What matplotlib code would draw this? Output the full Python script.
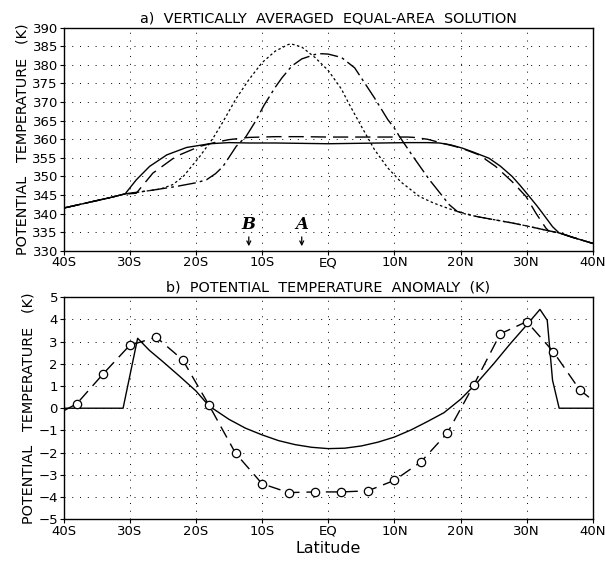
import numpy as np
import matplotlib
matplotlib.use('Agg')
import matplotlib.pyplot as plt

# Latitude ticks
lat_ticks = [-40, -30, -20, -10, 0, 10, 20, 30, 40]
lat_labels = ['40S', '30S', '20S', '10S', 'EQ', '10N', '20N', '30N', '40N']

# Panel a: vertically averaged equal-area solution (K)
solid_lat = [-40, -37, -35, -33, -30.7, -29, -27, -24.4, -21.4, -17.9, -15, -12, -8, -4, 0,
             4, 8, 12, 15, 16.8, 18.5, 20.3, 22, 24.3, 26, 27.8, 29, 30.4, 31.5, 32.4, 33.9, 34.9, 37, 40]
solid_val = [341.5, 342.7, 343.5, 344.3, 345.3, 349.1, 352.7, 355.8, 357.8, 358.8, 359.1, 359.0, 359.0,
             358.9, 358.8, 358.9, 359.0, 359.1, 359.1, 359.0, 358.5, 357.6, 356.5, 354.9, 352.8, 350.0,
             347.6, 344.6, 342.2, 340.1, 336.5, 334.8, 333.6, 332.0]

dash_lat = [-40, -37, -35, -33, -31, -29, -26.5, -23, -19.4, -17, -15, -12, -8, -4, 0, 4, 8, 12,
            13, 15, 18, 20, 22.8, 25.3, 27.8, 29.9, 31.4, 32.9, 33.3, 35, 37, 40]
dash_val = [341.5, 342.7, 343.5, 344.3, 345.2, 345.5, 350.9, 355.4, 358.1, 359.2, 359.9,
            360.5, 360.7, 360.7, 360.6, 360.6, 360.6, 360.6, 360.5, 360.0, 358.6, 357.7, 355.8, 352.7,
            348.6, 344.6, 340.1, 336.1, 335.4, 334.8, 333.6, 332.0]

dot_lat = [-40, -37, -35, -33, -31, -29, -27, -25.4, -23.5, -21.9, -19.4, -17.4, -16, -14, -12, -10, -8,
           -6, -5.5, -4, -2, 0, 2, 3, 5, 7, 9, 11, 13.8, 16, 18, 20.3, 22.5, 25, 27.8, 30, 33.3, 35, 37, 40]
dot_val = [341.5, 342.7, 343.5, 344.3, 345.2, 345.7, 346.2, 346.6, 347.8, 350.0, 355.4, 360.3, 364.4,
           370.7, 376.0, 380.6, 383.7, 385.5, 385.6, 384.8, 382.0, 378.5, 373.5, 370.0, 363.5, 357.2,
           352.3, 348.5, 344.6, 342.8, 341.5, 340.1, 339.2, 338.4, 337.5, 336.7, 335.4, 334.8, 333.6, 332.0]

dashdot_lat = [-40, -37, -35, -33, -31, -30, -27, -23, -20, -18.4, -17, -15.9, -13.9, -12.4, -11, -9.75,
               -8, -7, -5.5, -4, -2, -1, 0, 2, 4, 5, 7, 9, 10, 10.75, 12.8, 15.3, 18.3, 19.5, 22.5, 25,
               27.8, 30, 33.3, 35, 37, 40]
dashdot_val = [341.5, 342.7, 343.5, 344.3, 345.2, 345.5, 346.2, 347.3, 348.3, 349.1, 350.8, 352.7,
               358.1, 360.8, 364.8, 369.0, 374.0, 376.5, 379.7, 381.6, 382.8, 383.0, 382.9, 382.0,
               379.2, 376.5, 371.1, 365.3, 363.0, 360.8, 355.4, 349.1, 342.4, 340.6, 339.2, 338.4,
               337.5, 336.7, 335.4, 334.8, 333.6, 332.0]

# Panel b: potential temperature anomaly (K)
anom_lat = [-40, -31, -28.8, -27, -25, -22.5, -20, -18, -15, -12.5, -10, -7.5, -5, -2.5, 0, 2.5, 5, 7.5,
            10, 12.5, 15, 17.5, 20, 22.5, 25, 27.5, 30, 32, 33.1, 33.9, 34.9, 40]
anom_val = [0.0, 0.0, 3.15, 2.6, 2.1, 1.45, 0.78, 0.1, -0.5, -0.9, -1.2, -1.46, -1.64, -1.76, -1.82,
            -1.8, -1.7, -1.53, -1.3, -0.98, -0.6, -0.2, 0.4, 1.15, 2.0, 2.9, 3.75, 4.45, 3.96, 1.26,
            0.0, 0.0]

circ_lat = [-40, -38, -34, -30, -26, -22, -18, -14, -10, -6, -2, 2, 6, 10, 14, 18, 22, 26, 30, 34, 38, 40]
circ_val = [-0.12, 0.2, 1.55, 2.83, 3.2, 2.18, 0.13, -2.03, -3.4, -3.8, -3.77, -3.77, -3.72, -3.25,
            -2.42, -1.12, 1.05, 3.35, 3.9, 2.55, 0.83, 0.35]

plt.rcParams['font.family'] = ['DejaVu Sans']

fig = plt.figure(figsize=(6.05, 5.65), dpi=100)
ax1 = fig.add_axes([0.105, 0.556, 0.875, 0.395])
ax2 = fig.add_axes([0.105, 0.081, 0.875, 0.393])

grid_style = dict(color='black', linestyle=(0, (1, 7)), linewidth=0.7)


def style_axis(ax, yticks):
    ax.set_xlim(-40, 40)
    ax.set_xticks(lat_ticks)
    ax.set_xticklabels(lat_labels)
    ax.set_yticks(yticks)
    ax.tick_params(direction='out', length=3, width=0.8, labelsize=9.5, pad=1)
    for s in ax.spines.values():
        s.set_linewidth(1.0)
    ax.grid(True, **grid_style)
    ax.set_ylabel('POTENTIAL   TEMPERATURE   (K)', fontsize=10.4, labelpad=2)


# panel a
ax1.plot(solid_lat, solid_val, color='black', lw=1.0)
ax1.plot(dash_lat, dash_val, color='black', lw=1.0, dashes=(11, 5))
ax1.plot(dot_lat, dot_val, color='black', lw=0.9, dashes=(2, 2))
ax1.plot(dashdot_lat, dashdot_val, color='black', lw=1.0, dashes=(13, 3, 2, 3))
ax1.set_ylim(330, 390)
style_axis(ax1, np.arange(330, 391, 5))
ax1.set_title('a)  VERTICALLY  AVERAGED  EQUAL-AREA  SOLUTION', fontsize=10.4, pad=4)

for lat, lab in [(-12, 'B'), (-4, 'A')]:
    ax1.text(lat, 337.2, lab, ha='center', va='center', fontsize=12, fontweight='bold',
             fontstyle='italic', family='DejaVu Serif')
    ax1.annotate('', xy=(lat, 330.5), xytext=(lat, 334.5),
                 arrowprops=dict(arrowstyle='->', lw=0.9, color='black', mutation_scale=7))

# panel b
ax2.plot(anom_lat, anom_val, color='black', lw=1.0)
ax2.plot(circ_lat, circ_val, color='black', lw=1.0, dashes=(9, 5), marker='o', markersize=6,
         markerfacecolor='white', markeredgecolor='black', markeredgewidth=0.9,
         markevery=list(range(1, len(circ_lat) - 1)))
ax2.set_ylim(-5, 5)
style_axis(ax2, np.arange(-5, 6, 1))
ax2.set_title('b)  POTENTIAL  TEMPERATURE  ANOMALY  (K)', fontsize=10.4, pad=4)
ax2.set_xlabel('Latitude', fontsize=11.4, labelpad=2)

fig.savefig('out.png', dpi=100)
